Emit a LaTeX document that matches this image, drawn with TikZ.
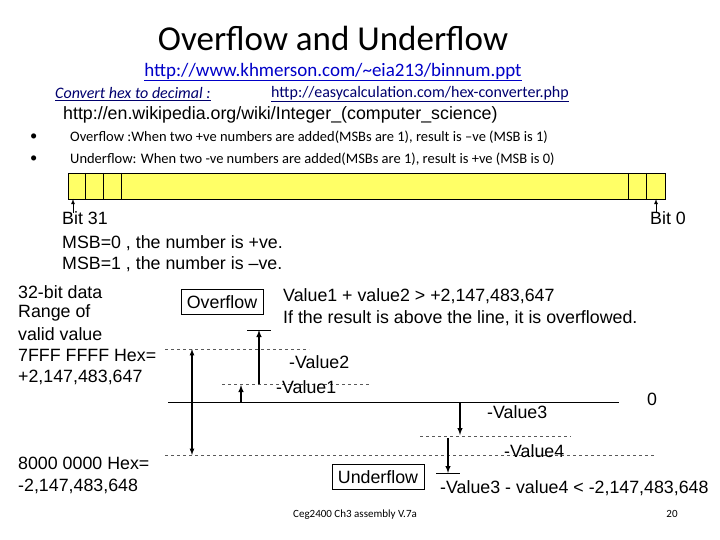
\documentclass[tikz,border=0pt]{standalone}
\usepackage{fontspec}
\setmainfont{Liberation Sans}
\newfontfamily\calib{Carlito}
\usetikzlibrary{positioning}
\definecolor{linkblue}{RGB}{0,0,200}
\definecolor{darkblue}{RGB}{0,0,110}
\definecolor{barfill}{RGB}{255,255,102}
\tikzset{
  txt/.style={inner sep=0pt, anchor=west, font=\fontsize{17.8}{19}\selectfont},
  smalltxt/.style={inner sep=0pt, anchor=west, font=\calib\fontsize{14.5}{16}\selectfont},
  levelline/.style={dashed, gray!70!black, thin},
  valarrow/.style={-latex, line width=1.4pt},
  labelbox/.style={draw, inner xsep=6pt, inner ysep=6pt, font=\fontsize{17.8}{19}\selectfont}
}
\begin{document}
\begin{tikzpicture}[x=1pt, y=-1pt]
\useasboundingbox (0,0) rectangle (720,540);
% titles
\node (title) at (333,38) {\calib\fontsize{35}{38}\selectfont Overflow and Underflow};
\node[inner sep=0pt, text=linkblue] (url1) at (333,72) {\calib\fontsize{19}{21}\selectfont\underline{http://www.khmerson.com/\textasciitilde eia213/binnum.ppt}};
\node[smalltxt, text=darkblue, font=\calib\itshape\fontsize{16}{18}\selectfont] (conv) at (55,94) {\underline{Convert hex to decimal :}};
\node[smalltxt, text=darkblue, font=\calib\fontsize{16}{18}\selectfont] (url2) at (271,94) {\underline{http://easycalculation.com/hex-converter.php}};
\node[txt] (wiki) at (63,115) {http://en.wikipedia.org/wiki/Integer\_(computer\_science)};
\node[smalltxt] (b1) at (70,137) {Overflow :When two +ve numbers are added(MSBs are 1), result is –ve (MSB is 1)};
\node[smalltxt] (b2) at (70,159) {Underflow: When two -ve numbers are added(MSBs are 1), result is +ve (MSB is 0)};
\node[smalltxt] (d1) at (30,137) {\textbullet};
\node[smalltxt] (d2) at (30,159) {\textbullet};
% register bar
\draw[fill=barfill] (68,173) rectangle (665,199);
\foreach \xc in {85,103,121,628,646} \draw (\xc,173) -- (\xc,199);
\coordinate (msb) at (73,199);
\coordinate (lsb) at (656,199);
\draw[-latex, thick] (73,213) -- (msb);
\draw[-latex, thick] (656,213) -- (lsb);
\node[txt] (bit31) at (62,218) {Bit 31};
\node[txt, anchor=east] (bit0) at (686,218) {Bit 0};
\node[txt] (msb0) at (62,243) {MSB=0 , the number is +ve.};
\node[txt] (msb1) at (62,264) {MSB=1 , the number is –ve.};
% left labels
\node[txt] (l1) at (18,292) {32-bit data};
\node[txt] (l2) at (18,313) {Range of};
\node[txt] (l3) at (18,334) {valid  value};
\node[txt] (l4) at (18,355) {7FFF FFFF Hex=};
\node[txt] (l5) at (18,377) {+2,147,483,647};
\node[txt] (l6) at (18,463) {8000 0000 Hex=};
\node[txt] (l7) at (18,486) {-2,147,483,648};
% levels
\coordinate (maxl) at (165,349); \coordinate (maxr) at (309,349);
\coordinate (minl) at (165,455); \coordinate (minr) at (655,455);
\draw[levelline] (maxl) -- (maxr);
\draw[levelline] (minl) -- (minr);
\draw[levelline] (222,384) -- (370,384);
\draw[levelline] (420,436) -- (571,436);
\draw[line width=1pt] (168,402) -- (619,402);
\draw (247,330) -- (271,330);
\draw (436,473) -- (460,473);
\draw[latex-latex, line width=1.2pt] (192,349) -- (192,455);
% overflow side
\coordinate (z1) at (241,402); \coordinate (v1) at (241,385);
\coordinate (z2) at (259,384); \coordinate (v2) at (259,330);
\draw[valarrow] (z1) -- (v1);
\draw[valarrow] (z2) -- (v2);
% underflow side
\coordinate (z3) at (460,402); \coordinate (v3) at (460,435);
\coordinate (z4) at (448,438); \coordinate (v4) at (448,473);
\draw[valarrow] (z3) -- (v3);
\draw[valarrow] (z4) -- (v4);
\node[labelbox] (ovf) at (222,302) {Overflow};
\node[labelbox] (unf) at (378,477) {Underflow};
\node[txt] (sum1) at (283,296) {Value1 + value2 > +2,147,483,647};
\node[txt] (sum2) at (283,318) {If the result is above the line, it is overflowed.};
\node[txt] (val2) at (289,362) {-Value2};
\node[txt] (val1) at (276,387) {-Value1};
\node[txt] (zero) at (647,399) {0};
\node[txt] (val3) at (487,412) {-Value3};
\node[txt] (val4) at (504,451) {-Value4};
\node[txt] (sum3) at (440,488) {-Value3 - value4 < -2,147,483,648};
% footer
\node[inner sep=0pt, font=\calib\fontsize{11}{13}\selectfont] (foot) at (355,515) {Ceg2400 Ch3 assembly V.7a};
\node[inner sep=0pt, font=\calib\fontsize{11}{13}\selectfont] (page) at (672,514) {20};
\end{tikzpicture}
\end{document}
